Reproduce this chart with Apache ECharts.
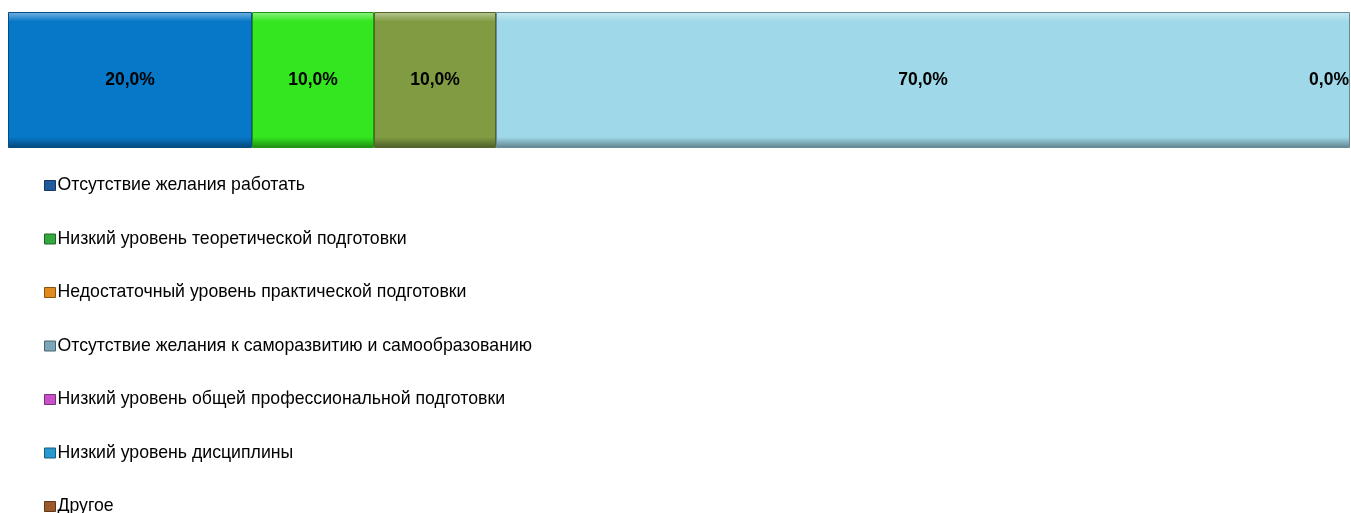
<!DOCTYPE html>
<html>
<head>
<meta charset="utf-8">
<script src="https://cdn.jsdelivr.net/npm/echarts@6/dist/echarts.min.js"></script>
<style>
  html, body { margin: 0; padding: 0; background: #fff; }
  #chart { width: 1351px; height: 513px; }
</style>
</head>
<body>
<div id="chart"></div>
<script>
// данные диаграммы
var categories = ['Причины'];
var seriesNames = [
  'Отсутствие желания работать',
  'Низкий уровень теоретической подготовки',
  'Недостаточный уровень практической подготовки',
  'Отсутствие желания к саморазвитию и самообразованию',
  'Низкий уровень общей профессиональной подготовки',
  'Низкий уровень дисциплины',
  'Другое'
];
var seriesValues = [20, 10, 10, 70, 0, null, null];
// цвета сегментов и значков легенды (в оригинале они не совпадают)
var barColors = ['#0777c8', '#33e620', '#809b42', '#9fd8e8', '#c850c8', '#2898d0', '#9c5a2c'];
var legendColors = ['#1f5a9c', '#34a83e', '#e08a1e', '#7aa6b8', '#c850c8', '#2898d0', '#9c5a2c'];

function shade(hex, k) {
  var n = parseInt(hex.slice(1), 16);
  var r = (n >> 16) & 255, g = (n >> 8) & 255, b = n & 255;
  var f = function (c) {
    c = k > 0 ? c + (255 - c) * k : c * (1 + k);
    return Math.round(Math.max(0, Math.min(255, c)));
  };
  return 'rgb(' + f(r) + ',' + f(g) + ',' + f(b) + ')';
}

function fmt(v) {
  return v.toFixed(1).replace('.', ',') + '%';
}

var total = seriesValues.reduce(function (a, b) { return a + (b || 0); }, 0);

var series = seriesNames.map(function (name, i) {
  var c = barColors[i];
  var v = seriesValues[i];
  return {
    name: name,
    type: 'bar',
    stack: 'all',
    barWidth: '100%',
    data: [v],
    itemStyle: {
      color: new echarts.graphic.LinearGradient(0, 0, 0, 1, [
        { offset: 0, color: shade(c, 0.45) },
        { offset: 0.07, color: c },
        { offset: 0.92, color: c },
        { offset: 1, color: shade(c, -0.4) }
      ]),
      borderColor: shade(c, -0.35),
      borderWidth: v ? 1 : 0
    },
    label: {
      show: v !== null,
      position: v === 0 ? 'left' : 'inside',
      distance: 1,
      formatter: function (p) { return fmt(p.value); },
      color: '#000',
      fontFamily: '"Liberation Sans", Arial, sans-serif',
      fontWeight: 'bold',
      fontSize: 17.5
    }
  };
});

var myChart = echarts.init(document.getElementById('chart'));
var option = {
  animation: false,
  backgroundColor: '#fff',
  grid: { left: 8, right: 1, top: 12, bottom: 365 },
  xAxis: { type: 'value', min: 0, max: total, show: false },
  yAxis: { type: 'category', data: categories, show: false },
  legend: {
    orient: 'vertical',
    left: 44,
    top: 175.5,
    height: 400,
    padding: 0,
    itemWidth: 11,
    itemHeight: 10,
    itemGap: 33.5,
    icon: 'rect',
    data: seriesNames.map(function (n, i) {
      return { name: n, itemStyle: { color: legendColors[i], borderColor: shade(legendColors[i], -0.4), borderWidth: 1 } };
    }),
    textStyle: {
      color: '#000',
      fontFamily: '"Liberation Sans", Arial, sans-serif',
      fontSize: 17.7,
      lineHeight: 20,
      padding: [0, 0, 0, -3]
    }
  },
  series: series
};
myChart.setOption(option);
</script>
</body>
</html>
